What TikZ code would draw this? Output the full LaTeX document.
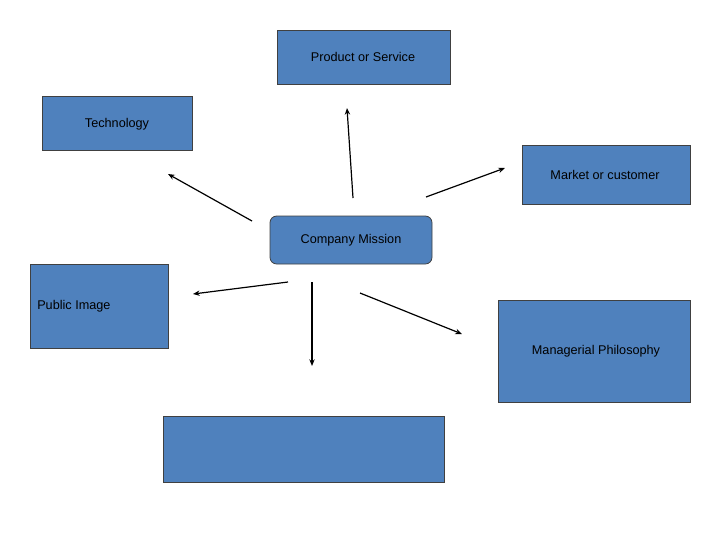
\documentclass[tikz,border=0pt]{standalone}
\usepackage{fontspec}
\setmainfont{Liberation Sans}
\usetikzlibrary{arrows.meta}
\definecolor{boxblue}{HTML}{4F81BD}
\begin{document}
\begin{tikzpicture}[x=0.75pt,y=-0.75pt,
  box/.style={draw=black!75,fill=boxblue,line width=0.6pt},
  lbl/.style={font=\fontsize{9.5pt}{11pt}\selectfont,inner sep=0pt},
  arr/.style={-{Stealth[length=5pt,width=4pt]},line width=0.9pt}]
\useasboundingbox (0,0) rectangle (720,540);
\draw[box] (277,30) rectangle (450,84);
\node[lbl] (ps) at (363,57) {Product or Service};
\draw[box] (42,96) rectangle (192,150);
\node[lbl] (tech) at (117,124) {Technology};
\draw[box] (522,145) rectangle (690,204);
\node[lbl] (mk) at (605,175) {Market or customer};
\draw[box,rounded corners=5pt] (270,216) rectangle (432,264);
\node[lbl] (cm) at (351,240) {Company Mission};
\draw[box] (30,264) rectangle (168,348);
\node[lbl,anchor=west] (pi) at (37,306) {Public Image};
\draw[box] (498,300) rectangle (690,402);
\node[lbl] (mp) at (596,351) {Managerial Philosophy};
\draw[box] (163,416) rectangle (444,482);
\coordinate (a1) at (353,198); \coordinate (b1) at (347,108);
\coordinate (a2) at (252,221); \coordinate (b2) at (168,174);
\coordinate (a3) at (426,197); \coordinate (b3) at (505,168);
\coordinate (a4) at (288,282); \coordinate (b4) at (193,294);
\coordinate (a5) at (312,282); \coordinate (b5) at (312,366);
\coordinate (a6) at (360,293); \coordinate (b6) at (462,334);
\foreach \i in {1,...,6} \draw[arr] (a\i) -- (b\i);
\end{tikzpicture}
\end{document}
